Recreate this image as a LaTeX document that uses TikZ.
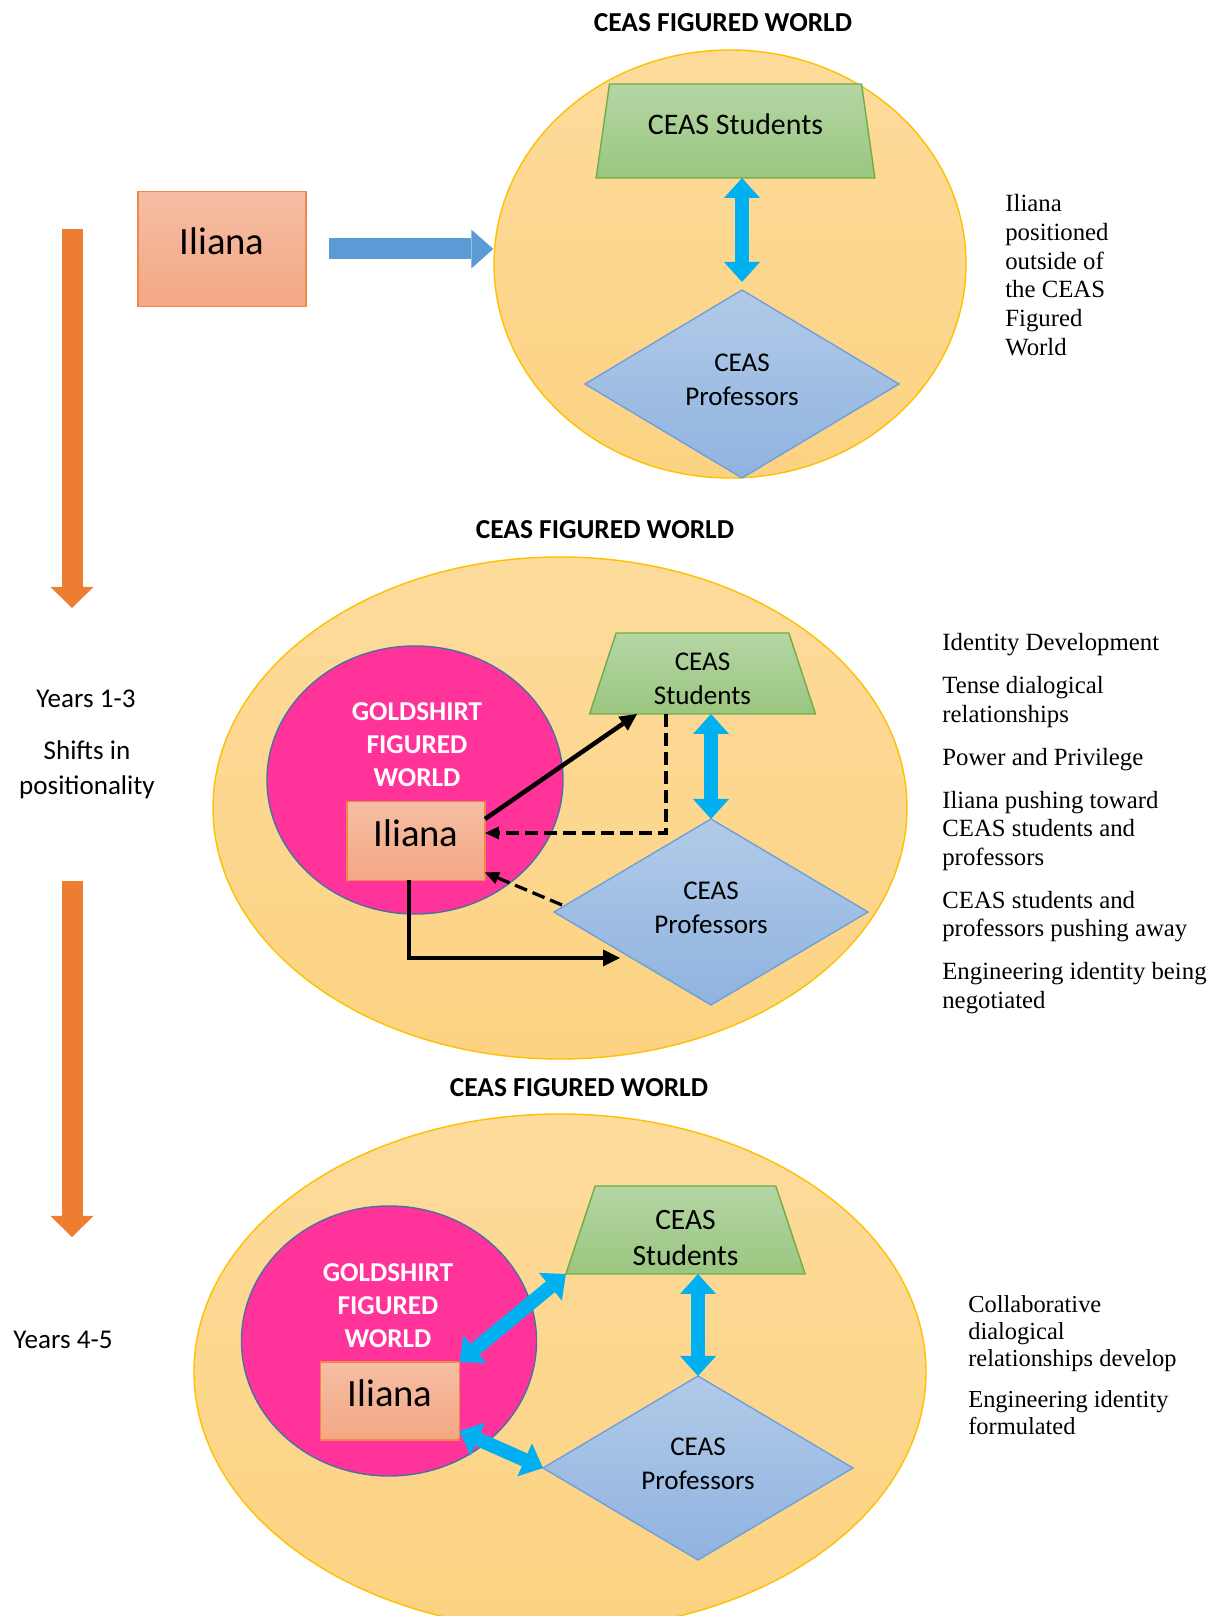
\documentclass[tikz,border=0pt]{standalone}
\usepackage{fontspec}
\setmainfont{Carlito}
\newfontfamily\noteserif{Liberation Serif}
\usetikzlibrary{shapes.geometric, arrows.meta, positioning}

\definecolor{worldtop}{HTML}{FDDB9C}
\definecolor{worldbot}{HTML}{FCD382}
\definecolor{worlddraw}{HTML}{FFC000}
\definecolor{studtop}{HTML}{B5D6A4}
\definecolor{studbot}{HTML}{9AC680}
\definecolor{studdraw}{HTML}{70AD47}
\definecolor{proftop}{HTML}{B2CAE8}
\definecolor{profbot}{HTML}{8FB3E0}
\definecolor{profdraw}{HTML}{6FA0D8}
\definecolor{ilitop}{HTML}{F5BEA4}
\definecolor{ilibot}{HTML}{F4A784}
\definecolor{ilidraw}{HTML}{F0884A}
\definecolor{goldpink}{HTML}{FF3399}
\definecolor{golddraw}{HTML}{4A6FA0}
\definecolor{yeararr}{HTML}{ED7D31}
\definecolor{pusharr}{HTML}{5B9BD5}
\definecolor{linkarr}{HTML}{00B0F0}

\begin{document}
\begin{tikzpicture}[
  world/.style = {ellipse, top color=worldtop, bottom color=worldbot,
                  draw=worlddraw, line width=0.8pt, inner sep=0pt},
  stud/.style  = {trapezium, trapezium angle=76, trapezium stretches=true,
                  top color=studtop, bottom color=studbot, draw=studdraw,
                  line width=0.8pt, align=center, outer sep=0pt,
                  inner ysep=0.05cm},
  prof/.style  = {diamond, shape aspect=1.67, top color=proftop,
                  bottom color=profbot, draw=profdraw, line width=0.8pt,
                  align=center, inner sep=0pt, outer sep=0pt,
                  text depth=0.18cm},
  ili/.style   = {rectangle, top color=ilitop, bottom color=ilibot,
                  draw=ilidraw, line width=1pt, outer sep=0pt,
                  font=\fontsize{22}{26}\selectfont, text depth=0.3cm},
  gold/.style  = {ellipse, fill=goldpink, draw=golddraw, line width=0.8pt},
  goldtxt/.style={text=white, align=center,
                  font=\fontsize{15.5}{18.8}\selectfont\bfseries},
  ttl/.style   = {font=\fontsize{15.6}{19}\selectfont\bfseries},
  lbl/.style   = {font=\fontsize{15.4}{19.4}\selectfont},
  note/.style  = {anchor=north west, align=left, inner sep=0pt},
  dbl/.style   = {line width=0.28cm, linkarr,
                  {Triangle[length=0.4cm,width=0.72cm,line width=0pt]}-{Triangle[length=0.4cm,width=0.72cm,line width=0pt]}},
  arr/.style   = {line width=0.09cm,
                  -{Triangle[length=0.34cm,width=0.34cm,line width=0pt]}},
  dsh/.style   = {line width=0.065cm, dash pattern=on 0.26cm off 0.12cm,
                  -{Triangle[length=0.28cm,width=0.26cm,line width=0pt]}},
  yrs/.style   = {line width=0.42cm, yeararr,
                  -{Triangle[length=0.42cm,width=0.86cm,line width=0pt]}}
]
\useasboundingbox (0,0) rectangle (24.42,32.32);

% ===================== LEFT: TIMELINE =====================
\coordinate (yr1top) at (1.44,27.74);
\coordinate (yr1bot) at (1.44,20.16);
\draw[yrs] (yr1top) -- (yr1bot);
\node[lbl] (yrs13) at (1.72,18.34) {Years 1-3};
\node[lbl, align=center, font=\fontsize{15.4}{20}\selectfont]
  (shift) at (1.74,16.93) {Shifts in\\positionality};
\coordinate (yr2top) at (1.44,14.70);
\coordinate (yr2bot) at (1.44,7.58);
\draw[yrs] (yr2top) -- (yr2bot);
\node[lbl] (yrs45) at (1.26,5.52) {Years 4-5};

% ===================== TOP: OUTSIDE =====================
\node[world, minimum width=9.44cm, minimum height=8.56cm]
  (world1) at (14.60,27.04) {};
\node[ttl, above=0.22cm of world1, xshift=-0.14cm] (title1) {CEAS FIGURED WORLD};
\node[stud, minimum width=5.58cm, minimum height=1.88cm,
      font=\fontsize{17}{20}\selectfont, text depth=0.28cm]
  (stud1) at (14.71,29.70) {CEAS Students};
\node[prof, minimum width=6.28cm, minimum height=3.76cm, lbl]
  (prof1) at (14.84,24.64) {CEAS\\Professors};
\node[ili, minimum width=3.36cm, minimum height=2.30cm]
  (ili1) at (4.44,27.34) {Iliana};

\draw[dbl] (prof1.north |- stud1.south) -- ([yshift=0.16cm]prof1.north);
\draw[line width=0.42cm, pusharr, shorten <=0.46cm,
      -{Triangle[length=0.44cm,width=0.78cm,line width=0pt]}]
  (ili1.east) -- (ili1.east -| world1.west);

\node[note, font=\noteserif\fontsize{14.1}{16.4}\selectfont]
  (note1) at (20.10,28.44) {Iliana\\positioned\\outside of\\the CEAS\\Figured\\World};

% ===================== MIDDLE: YEARS 1-3 =====================
\node[world, minimum width=13.88cm, minimum height=10.04cm]
  (world2) at (11.20,16.16) {};
\node[ttl, above=0.22cm of world2, xshift=0.90cm] (title2) {CEAS FIGURED WORLD};
\node[gold, minimum width=5.92cm, minimum height=5.36cm]
  (gold2) at (8.30,16.72) {};
\node[goldtxt] (gtxt2) at (8.34,17.42) {GOLDSHIRT\\FIGURED\\WORLD};
\node[ili, minimum width=2.76cm, minimum height=1.58cm]
  (ili2) at (8.32,15.50) {Iliana};
\node[stud, minimum width=4.54cm, minimum height=1.62cm, lbl, text height=1.24cm]
  (stud2) at (14.05,18.85) {CEAS\\Students};
\node[prof, minimum width=6.28cm, minimum height=3.72cm, lbl]
  (prof2) at (14.22,14.08) {CEAS\\Professors};

\draw[dbl] (prof2.north |- stud2.south) -- (prof2.north);
% pushing toward / pushing away
\draw[arr] ([yshift=0.44cm]ili2.east) -- ([xshift=-1.31cm]stud2.south);
\draw[dsh] ([xshift=-0.73cm]stud2.south) |- ([yshift=0.16cm]ili2.east);
\draw[dsh] ([xshift=0.16cm,yshift=0.14cm]prof2.west) -- ([yshift=0.16cm]ili2.south east);
\draw[arr] ([xshift=-0.14cm]ili2.south) |- ([xshift=1.32cm,yshift=-0.92cm]prof2.west);

\node[note, font=\noteserif\fontsize{14.1}{16.1}\selectfont]
  (note2) at (18.84,19.66) {Identity Development\\[8.5pt]
    Tense dialogical\\relationships\\[8.5pt]
    Power and Privilege\\[8.5pt]
    Iliana pushing toward\\CEAS students and\\professors\\[8.5pt]
    CEAS students and\\professors pushing away\\[8.5pt]
    Engineering identity being\\negotiated};

% ===================== BOTTOM: YEARS 4-5 =====================
\node[world, minimum width=14.64cm, minimum height=10.32cm]
  (world3) at (11.20,4.88) {};
\node[ttl, above=0.2cm of world3, xshift=0.38cm] (title3) {CEAS FIGURED WORLD};
\node[gold, minimum width=5.90cm, minimum height=5.40cm]
  (gold3) at (7.78,5.50) {};
\node[goldtxt] (gtxt3) at (7.76,6.20) {GOLDSHIRT\\FIGURED\\WORLD};
\node[ili, minimum width=2.78cm, minimum height=1.56cm]
  (ili3) at (7.80,4.30) {Iliana};
\node[stud, minimum width=4.82cm, minimum height=1.76cm,
      font=\fontsize{16.8}{20.5}\selectfont, text height=1.43cm]
  (stud3) at (13.71,7.72) {CEAS\\Students};
\node[prof, minimum width=6.20cm, minimum height=3.68cm, lbl]
  (prof3) at (13.96,2.96) {CEAS\\Professors};

\draw[dbl] (prof3.north |- stud3.south) -- (prof3.north);
\draw[dbl] (ili3.north east) -- (stud3.bottom left corner);
\draw[dbl] ([yshift=0.18cm]ili3.south east) -- (prof3.west);

\node[note, font=\noteserif\fontsize{13.9}{15.4}\selectfont]
  (note3) at (19.36,6.42) {Collaborative\\dialogical\\relationships develop\\[8pt]
    Engineering identity\\formulated};

\end{tikzpicture}
\end{document}
